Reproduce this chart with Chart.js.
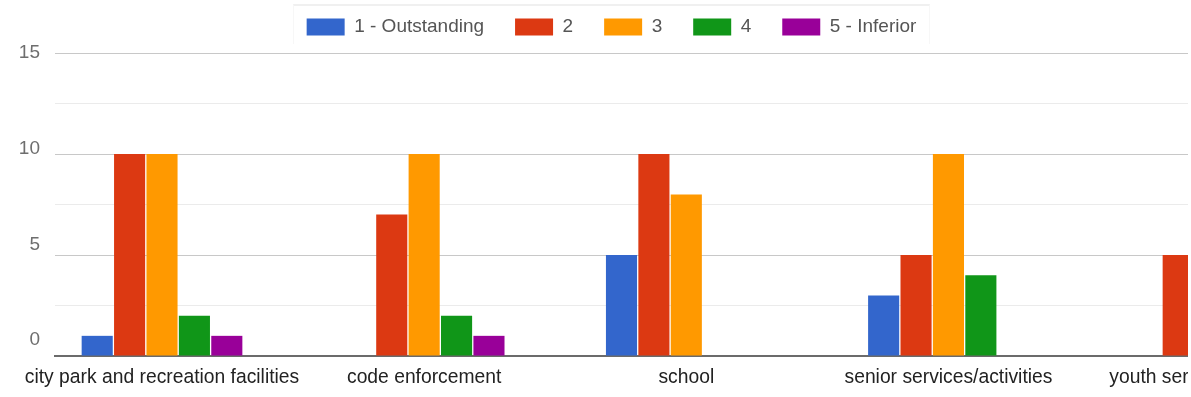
<!DOCTYPE html>
<html>
<head>
<meta charset="utf-8">
<script src="https://cdn.jsdelivr.net/npm/chart.js@4/dist/chart.umd.min.js"></script>
<style>
  html, body { margin: 0; padding: 0; background: #ffffff; overflow: hidden; }
  #wrap { position: absolute; left: 0; top: 0; width: 1188px; height: 397px; overflow: hidden; background: #fff; }
  #frame { position: absolute; left: 293px; top: 4px; width: 635px; height: 38px;
           border-top: 2px solid #f0f0f0; border-left: 1px solid #f7f7f7; border-right: 1px solid #f7f7f7; }
  canvas { display: block; }
</style>
</head>
<body>
<div id="wrap">
  <canvas id="c" width="1223" height="397"></canvas>
  <div id="frame"></div>
</div>
<script>
const categories = ['city park and recreation facilities', 'code enforcement', 'school', 'senior services/activities', 'youth services/activities'];
const seriesNames = ['1 - Outstanding', '2', '3', '4', '5 - Inferior'];
const outstanding = [1, 0, 5, 3, 0];
const rating2 = [10, 7, 10, 5, 5];
const rating3 = [10, 10, 8, 10, null];
const rating4 = [2, 2, 0, 4, null];
const inferior = [1, 1, 0, 0, null];
const yTickLabels = [0, 5, 10, 15];
const colors = ['#3366cc', '#dc3912', '#ff9900', '#109618', '#990099'];

const seriesValues = [outstanding, rating2, rating3, rating4, inferior];

Chart.defaults.font.family = '"Liberation Sans", Arial, sans-serif';

const datasets = seriesValues.map((vals, s) => ({
  label: seriesNames[s],
  data: vals.map((v, i) => ({ x: i, y: v })),
  backgroundColor: colors[s],
  borderWidth: 0,
  xAxisID: 'x',
  yAxisID: 'y',
  barPercentage: 0.96,
  categoryPercentage: 0.618
}));

new Chart(document.getElementById('c'), {
  type: 'bar',
  data: { datasets },
  options: {
    responsive: false,
    animation: false,
    layout: { padding: { top: -13.5, bottom: -3.2, left: 0, right: 0 } },
    plugins: {
      tooltip: { enabled: false },
      legend: {
        position: 'top',
        labels: {
          boxWidth: 38,
          boxHeight: 17,
          padding: 31,
          color: '#555555',
          font: { size: 19 }
        }
      }
    },
    scales: {
      x: {
        type: 'linear',
        position: 'bottom',
        offset: false,
        min: -0.4082,
        max: 4.0473,
        grid: { display: false, drawTicks: false, offset: false },
        border: { display: true, color: '#6b6b6b', width: 2 },
        ticks: {
          stepSize: 1,
          includeBounds: false,
          autoSkip: false,
          maxRotation: 0,
          minRotation: 0,
          padding: 10.5,
          color: '#222222',
          font: { size: 19.3 },
          callback: (v) => Number.isInteger(v) ? categories[v] : null
        },
        afterFit: (s) => { s.paddingLeft = 0; s.paddingRight = 0; }
      },
      spacer: {
        type: 'linear',
        position: 'top',
        display: true,
        offset: false,
        grid: { display: false, drawTicks: false },
        border: { display: false },
        ticks: { display: false },
        afterFit: (s) => { s.height = 6.5; s.paddingLeft = 0; s.paddingRight = 0; }
      },
      y: {
        type: 'linear',
        position: 'left',
        min: 0,
        max: 15,
        grid: {
          drawTicks: false,
          lineWidth: 1,
          color: (ctx) => {
            const v = ctx.tick ? ctx.tick.value : 0;
            if (v === 0) return 'rgba(0,0,0,0)';
            return (v % 5 === 0) ? '#c8c8c8' : '#ebebeb';
          }
        },
        border: { display: false },
        ticks: { display: false, stepSize: 2.5 },
        afterFit: (s) => { s.width = 0; s.paddingTop = 0; s.paddingBottom = 0; }
      },
      ylabels: {
        type: 'linear',
        position: 'left',
        min: -0.84,
        max: 15,
        grid: { display: false, drawTicks: false },
        border: { display: false },
        ticks: {
          stepSize: 5,
          includeBounds: false,
          padding: 15,
          color: '#6e6e6e',
          font: { size: 19 },
          callback: (v) => yTickLabels.includes(v) ? String(v) : null
        },
        afterFit: (s) => { s.width = 55; s.paddingTop = 0; s.paddingBottom = 0; }
      }
    }
  }
});
</script>
</body>
</html>
